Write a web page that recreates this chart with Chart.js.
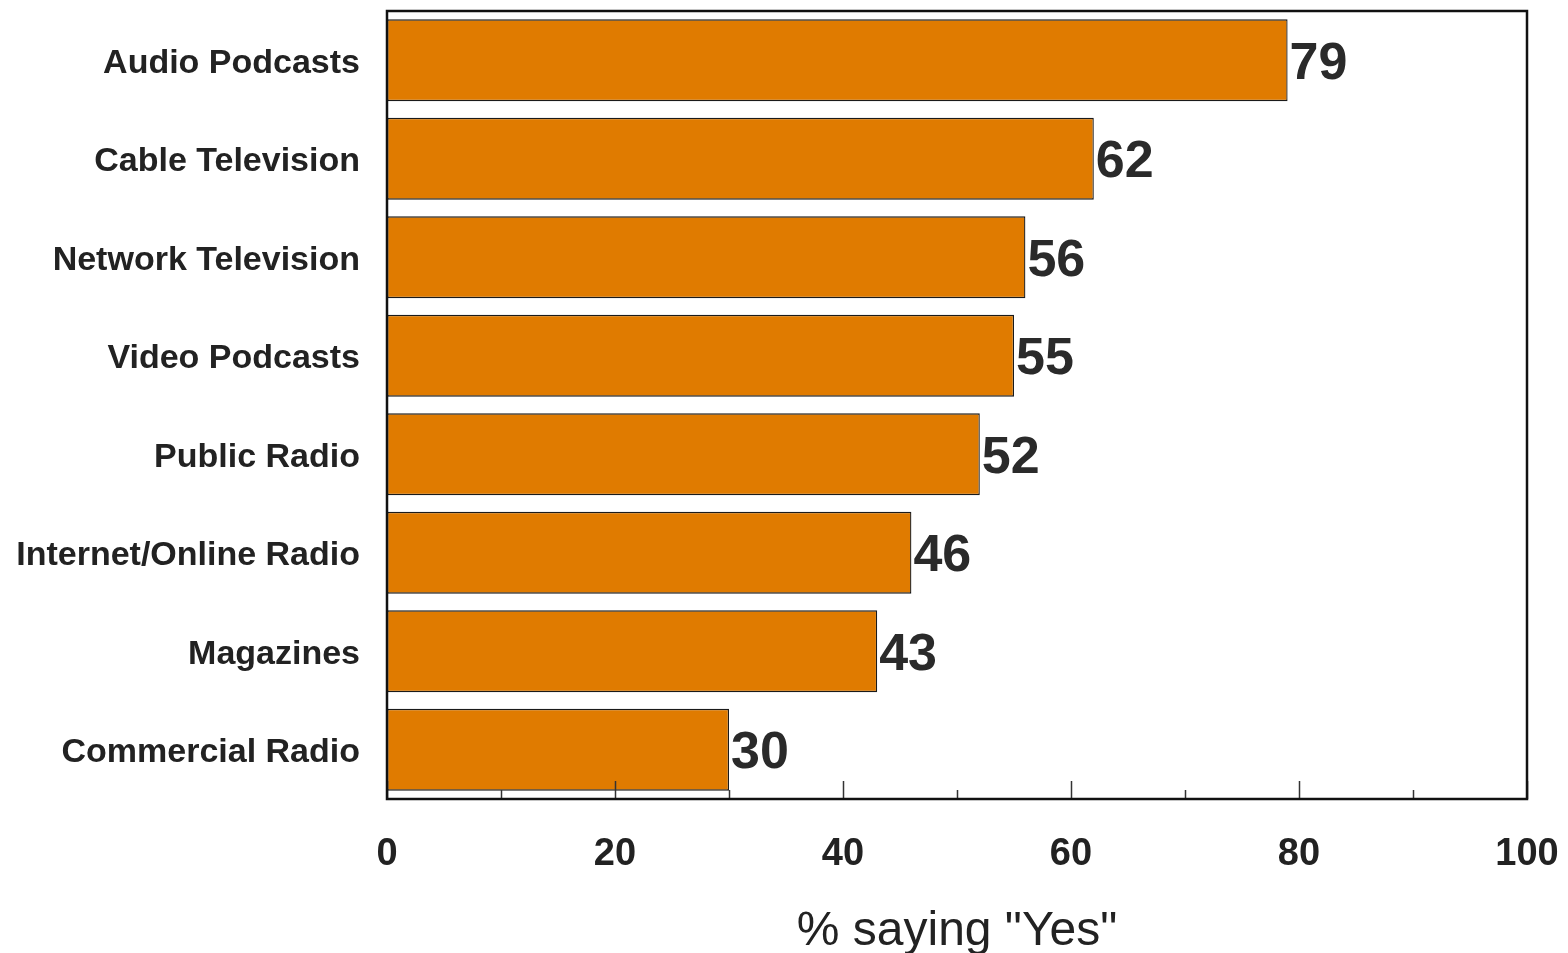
<!DOCTYPE html>
<html>
<head>
<meta charset="utf-8">
<script src="https://cdn.jsdelivr.net/npm/chart.js@4/dist/chart.umd.min.js"></script>
<style>
  html, body { margin: 0; padding: 0; background: #fff; }
  #wrap { width: 1568px; height: 953px; }
</style>
</head>
<body>
<div id="wrap"><canvas id="myChart"></canvas></div>
<script>
var categories = ['Audio Podcasts', 'Cable Television', 'Network Television', 'Video Podcasts',
  'Public Radio', 'Internet/Online Radio', 'Magazines', 'Commercial Radio'];
var yesValues = [79, 62, 56, 55, 52, 46, 43, 30];
var xTicks = [0, 20, 40, 60, 80, 100];
var minorTicks = [10, 30, 50, 70, 90];

var FONT = '"Liberation Sans", Arial, Helvetica, sans-serif';

// box round the plot, inward ticks on the bottom edge, value labels at bar ends
var decor = {
  id: 'decor',
  afterDatasetsDraw: function (chart) {
    var c = chart.ctx, a = chart.chartArea, xs = chart.scales.x;
    c.save();
    c.strokeStyle = '#333';
    c.lineWidth = 1.5;
    xTicks.forEach(function (v) {
      var px = Math.round(xs.getPixelForValue(v)) + 0.5;
      c.beginPath(); c.moveTo(px, a.bottom); c.lineTo(px, a.bottom - 18); c.stroke();
    });
    minorTicks.forEach(function (v) {
      var px = Math.round(xs.getPixelForValue(v)) + 0.5;
      c.beginPath(); c.moveTo(px, a.bottom); c.lineTo(px, a.bottom - 9); c.stroke();
    });
    c.strokeStyle = '#111';
    c.lineWidth = 2.5;
    c.strokeRect(a.left, a.top, a.right - a.left, a.bottom - a.top);

    var meta = chart.getDatasetMeta(0);
    c.fillStyle = '#2a2a2a';
    c.font = 'bold 52px ' + FONT;
    c.textAlign = 'left';
    c.textBaseline = 'middle';
    meta.data.forEach(function (bar, i) {
      c.fillText(String(yesValues[i]), bar.x + 2, bar.y + 4);
    });
    c.restore();
  }
};

var ctx = document.getElementById('myChart').getContext('2d');
var chart = new Chart(ctx, {
  type: 'bar',
  data: {
    labels: categories,
    datasets: [{
      label: '% saying "Yes"',
      data: yesValues,
      backgroundColor: '#e07b00',
      borderColor: '#1a1a1a',
      borderWidth: 1.3,
      borderSkipped: false,
      barPercentage: 0.83,
      categoryPercentage: 1.0
    }]
  },
  options: {
    indexAxis: 'y',
    responsive: true,
    maintainAspectRatio: false,
    animation: false,
    layout: { padding: { top: 11, right: 41, left: 0, bottom: 0 } },
    plugins: {
      legend: { display: false },
      tooltip: { enabled: false }
    },
    scales: {
      x: {
        min: 0,
        max: 100,
        afterBuildTicks: function (scale) {
          scale.ticks = xTicks.map(function (v) { return { value: v }; });
        },
        grid: { display: false, drawTicks: false },
        border: { display: false },
        ticks: {
          color: '#222',
          font: { family: FONT, size: 38, weight: 'bold' },
          padding: 33,
          maxRotation: 0
        },
        title: {
          display: true,
          text: '% saying "Yes"',
          color: '#222',
          font: { family: FONT, size: 48, weight: 'normal', lineHeight: 1 },
          padding: { top: 0, bottom: -3 }
        },
        afterFit: function (scale) {
          scale.height = 154;
          scale.paddingLeft = 0;
          scale.paddingRight = 0;
        }
      },
      y: {
        grid: { display: false, drawTicks: false },
        border: { display: false },
        ticks: {
          color: '#222',
          font: { family: FONT, size: 34, weight: 'bold' },
          padding: 27,
          labelOffset: 3
        },
        afterFit: function (scale) {
          scale.width = 387;
          scale.paddingTop = 0;
          scale.paddingBottom = 0;
        }
      }
    }
  },
  plugins: [decor]
});
</script>
</body>
</html>
